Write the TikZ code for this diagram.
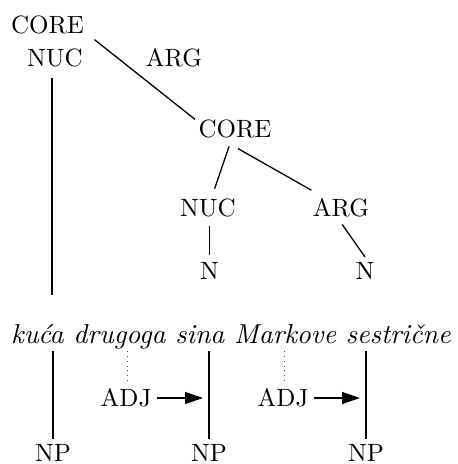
\documentclass[tikz,border=0pt]{standalone}
\usetikzlibrary{calc,arrows.meta}
\begin{document}
\begin{tikzpicture}[x=0.5pt,y=-0.5pt,
  lbl/.style={inner sep=2pt,scale=1.25,font=\fontsize{10}{12}\selectfont},
  word/.style={inner sep=1.5pt,scale=1.37,anchor=base west,font=\fontsize{10}{12}\selectfont\itshape},
  edge/.style={line width=0.65pt},
  dot/.style={line width=0.4pt,dotted,black!70},
  arr/.style={line width=0.65pt,-{Triangle[length=9pt,width=6pt]}}]
\useasboundingbox (0,0) rectangle (458,464);
% upper tree
\node[lbl] (core1) at (47.5,25) {CORE};
\node[lbl] (nuc1) at (55,58) {NUC};
\node[lbl] (arg1) at (174,58) {ARG};
\node[lbl] (core2) at (235,129) {CORE};
\node[lbl] (nuc2) at (208,208) {NUC};
\node[lbl] (arg2) at (341,208) {ARG};
\node[lbl] (n1) at (209.5,271) {N};
\node[lbl] (n2) at (365,271) {N};
% words
\node[word] (words) at (6.5,343) {kuća drugoga sina Markove sestrične};
% lower labels
\node[lbl] (adj1) at (126,398) {ADJ};
\node[lbl] (adj2) at (283,398) {ADJ};
\node[lbl] (np1) at (53,453) {NP};
\node[lbl] (np2) at (209,453) {NP};
\node[lbl] (np3) at (366,453) {NP};
% tree edges
\draw[edge] ($(core1.south east)+(5,0)$) -- ($(core2.north west)+(2,5)$);
\draw[edge] ($(nuc1.south)+(-3,5)$) -- ($(nuc1.south |- words.north)+(-3,-24)$);
\draw[edge,shorten <=1.5pt,shorten >=2.5pt] (core2) -- (nuc2);
\draw[edge] ($(core2.south)+(3,5)$) -- ($(arg2.north west)+(4,-3)$);
\draw[edge,shorten <=1pt] (arg2.south) -- (n2.north);
\draw[edge,shorten <=1.5pt,shorten >=1pt] (nuc2.south -| n1.north) -- (n1.north);
% bottom part
\draw[edge] ($(np1.north |- words.south)+(0,-2)$) -- (np1.north);
\draw[edge] ($(np2.north |- words.south)+(0,-2)$) -- (np2.north);
\draw[edge] ($(np3.north |- words.south)+(0,-2)$) -- (np3.north);
\draw[dot] ($(adj1.north |- words.south)+(1,-2)$) -- ($(adj1.north)+(1,-2)$);
\draw[dot] ($(adj2.north |- words.south)+(1,-2)$) -- ($(adj2.north)+(1,-2)$);
\draw[arr,shorten >=3pt] (adj1.east) -- (adj1.east -| np2.north);
\draw[arr,shorten >=3pt] (adj2.east) -- (adj2.east -| np3.north);
\end{tikzpicture}
\end{document}
